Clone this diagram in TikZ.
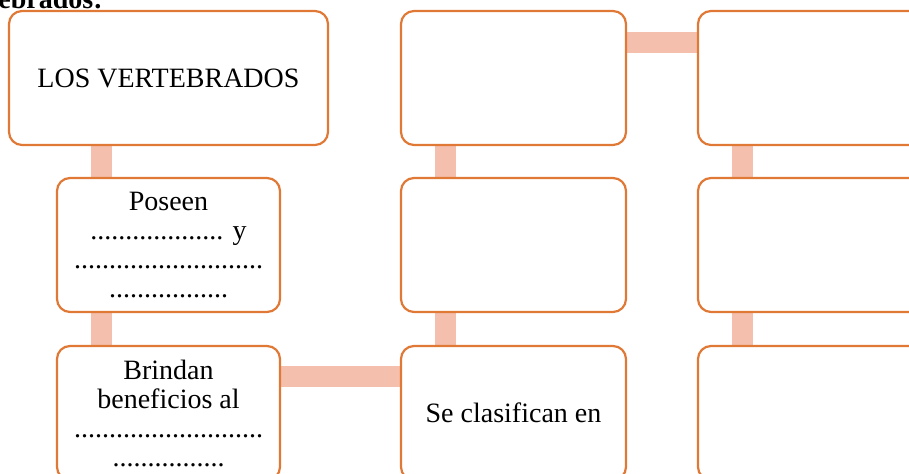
\documentclass[tikz,border=0pt]{standalone}
\usepackage{fontspec}
\setmainfont{Liberation Serif}
\usetikzlibrary{backgrounds}
\definecolor{boxorange}{HTML}{E07836}
\definecolor{linkpink}{HTML}{F4BFAC}
\tikzset{
  cbox/.style={draw=boxorange,line width=1.1pt,fill=white,rounded corners=6.5pt,
    minimum height=67pt,minimum width=112.5pt,inner sep=0pt,align=center,
    font=\fontsize{14}{14.5}\selectfont},
  link/.style={draw=linkpink,line width=10.5pt}
}

\begin{document}
\begin{tikzpicture}[x=0.5pt,y=-0.5pt]
    \path[use as bounding box,clip](0,0)rectangle(909,474);
    \node[anchor=base west,inner sep=0pt,font=\fontsize{14}{14.5}\selectfont\bfseries](head)at(-2,9){ebrados:};
    % first column
    \node[cbox,minimum width=159.5pt](top1)at(168.5,78){LOS VERTEBRADOS};
    \node[cbox,minimum width=111.5pt](poseen)at(168.5,245){Poseen\\ ................... y\\ ...........................\\ .................};
    \node[cbox,minimum width=111.5pt](brindan)at(168.5,413){Brindan\\ beneficios al\\ ...........................\\ ................};
    % second column
    \node[cbox](mid1)at(513.5,78){};
    \node[cbox](mid2)at(513.5,245){};
    \node[cbox](mid3)at(513.5,413){Se clasifican en};
    % third column
    \node[cbox](right1)at(810.5,78){};
    \node[cbox](right2)at(810.5,245){};
    \node[cbox](right3)at(810.5,413){};
    \begin{scope}[on background layer]
      \foreach \a/\b in {top1/poseen,poseen/brindan,mid1/mid2,mid2/mid3,right1/right2,right2/right3}
        \draw[link]([xshift=23pt]\b.north west)--([xshift=23pt]\b.north west |- \a.south);
      \draw[link]([yshift=-16.5pt]mid1.north east)--([yshift=-16.5pt]right1.north west);
      \draw[link]([yshift=-16pt]brindan.north east)--([yshift=-16pt]mid3.north west);
    \end{scope}
\end{tikzpicture}
\end{document}
